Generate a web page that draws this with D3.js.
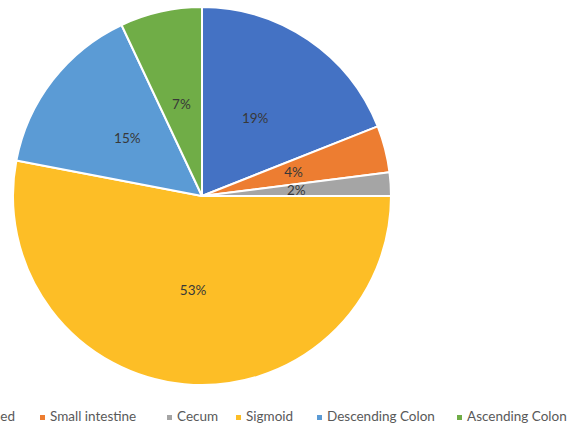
<!DOCTYPE html>
<html>
<head>
<meta charset="utf-8">
<script src="https://cdn.jsdelivr.net/npm/d3@7"></script>
<style>
html,body{margin:0;padding:0;background:#fff;}
svg{display:block;}
</style>
</head>
<body>
<svg id="chart" width="568" height="430"></svg>
<script>
const categories = ["Not specified", "Small intestine", "Cecum", "Sigmoid", "Descending Colon", "Ascending Colon"];
const values = [19, 4, 2, 53, 15, 7];
const colors = ["#4472C4", "#ED7D31", "#A5A5A5", "#FDBE26", "#5B9BD5", "#70AD47"];

const svg = d3.select("#chart");
const cx = 202, cy = 196, r = 189;

const data = categories.map((c, i) => ({cat: c, value: values[i], color: colors[i]}));
const pie = d3.pie().value(d => d.value).sort(null);
const arcs = pie(data);
const arc = d3.arc().innerRadius(0).outerRadius(r);
const labelArc = d3.arc().innerRadius(r * 0.5).outerRadius(r * 0.5);

const g = svg.append("g").attr("transform", `translate(${cx},${cy})`);
g.selectAll("path.slice").data(arcs).join("path")
  .attr("class", "slice")
  .attr("d", arc)
  .attr("fill", d => d.data.color)
  .attr("stroke", "#fff")
  .attr("stroke-width", 2)
  .attr("stroke-linejoin", "round");

g.selectAll("text.lbl").data(arcs).join("text")
  .attr("class", "lbl")
  .attr("transform", d => `translate(${labelArc.centroid(d)})`)
  .attr("text-anchor", "middle")
  .attr("dy", "0.35em")
  .attr("font-family", "Lato, 'Open Sans', sans-serif")
  .attr("font-size", 13.5)
  .attr("font-weight", 400)
  .attr("fill", "#383838")
  .text(d => d3.format(".0%")(d.data.value / d3.sum(values)));

// legend: marker x positions (layout) for visible items
const markerX = [null, 40, 167, 236, 317, 457];
const legY = 421;
const leg = svg.append("g").attr("font-family", "Lato, 'Open Sans', sans-serif")
  .attr("font-size", 13.5).attr("fill", "#595959");

data.forEach((d, i) => {
  let mx;
  if (i === 0) {
    // first item is cut off at the left edge; its text ends near x=15
    const t = leg.append("text").attr("y", legY).attr("text-anchor", "end").attr("x", 15).text(d.cat);
    const w = t.node().getComputedTextLength();
    mx = 15 - w - 10;
  } else {
    mx = markerX[i];
    leg.append("text").attr("x", mx + 10).attr("y", legY).text(d.cat);
  }
  leg.append("rect").attr("x", mx).attr("y", legY - 6).attr("width", 5).attr("height", 5).attr("fill", d.color);
});
</script>
</body>
</html>
